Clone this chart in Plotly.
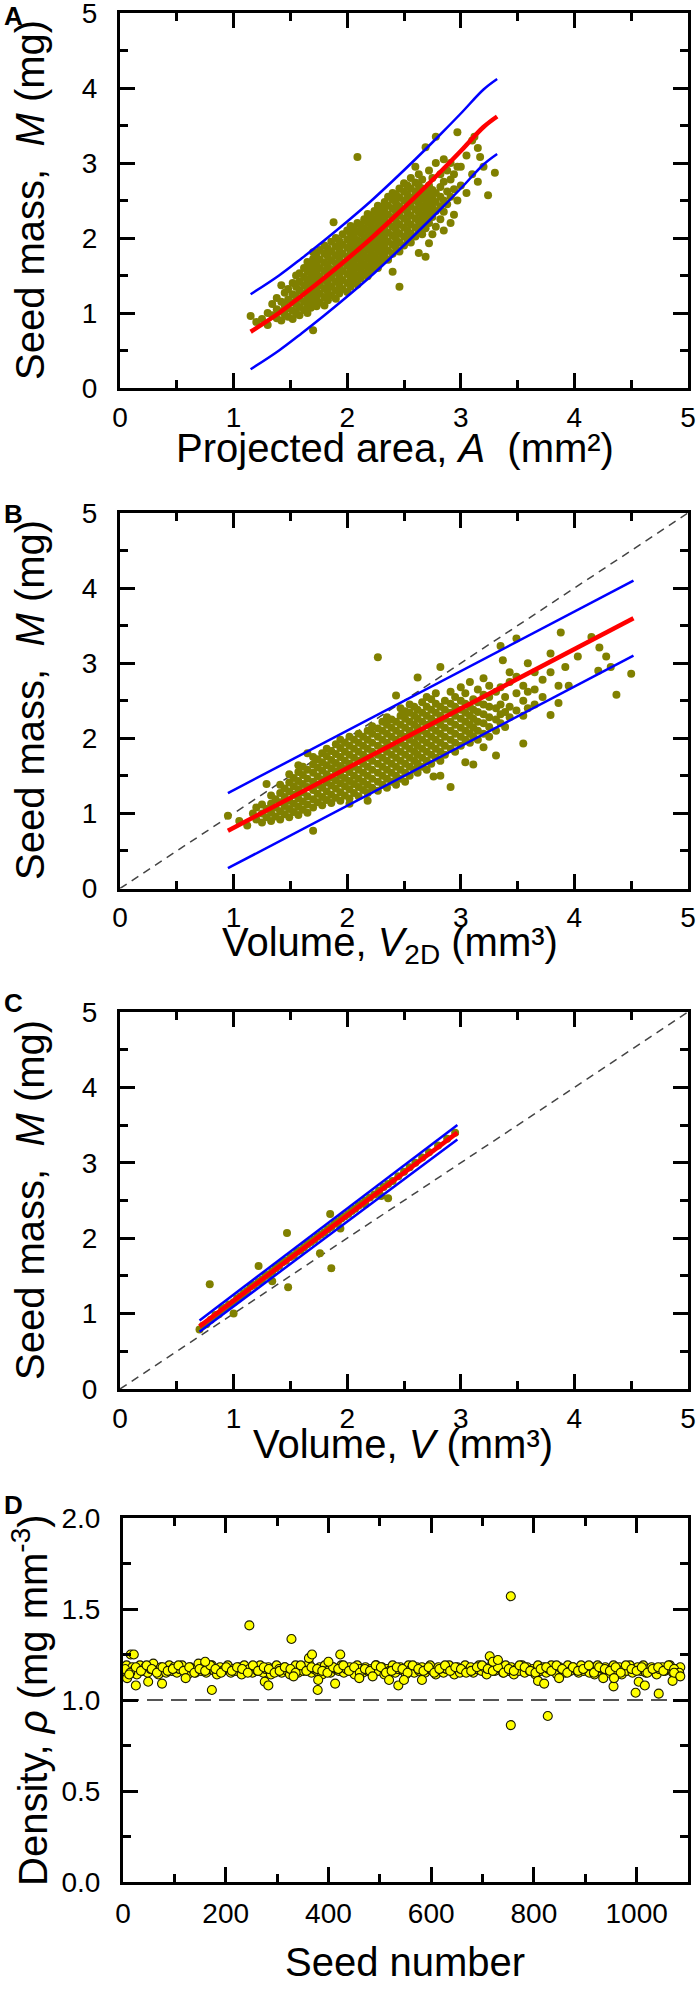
import plotly.graph_objects as go

# ---------------- DATA ----------------
# Panel A: projected area A (mm^2) -> seed mass M (mg); columns of points
A_cols = {
    1.15: [0.96], 1.20: [0.88], 1.25: [0.92], 1.30: [0.84, 1.00], 1.34: [0.97, 1.12],
    1.38: [0.93, 1.05, 1.20], 1.42: [0.90, 1.02, 1.15, 1.37], 1.45: [0.98, 1.10, 1.27],
    1.48: [0.95, 1.06, 1.18, 1.32], 1.52: [0.92, 1.03, 1.14, 1.25, 1.40],
    1.55: [1.00, 1.12, 1.22, 1.35, 1.50], 1.58: [0.97, 1.08, 1.19, 1.30, 1.42, 1.53],
    1.62: [1.04, 1.15, 1.26, 1.37, 1.48, 1.60], 1.65: [1.00, 1.11, 1.22, 1.33, 1.44, 1.56, 1.68],
    1.68: [1.07, 1.18, 1.29, 1.40, 1.52, 1.63], 1.70: [0.77, 1.12, 1.24, 1.36, 1.47, 1.58, 1.72, 1.81],
    1.73: [1.09, 1.20, 1.31, 1.43, 1.55, 1.66, 1.78], 1.76: [1.14, 1.26, 1.37, 1.49, 1.60, 1.71, 1.84],
    1.80: [1.10, 1.21, 1.33, 1.44, 1.56, 1.67, 1.79, 1.90], 1.83: [1.17, 1.28, 1.40, 1.52, 1.63, 1.75, 1.86],
    1.86: [1.23, 1.35, 1.47, 1.58, 1.70, 1.82, 1.95], 1.88: [2.21],
    1.90: [1.19, 1.30, 1.42, 1.54, 1.66, 1.77, 1.89, 2.00], 1.93: [1.26, 1.37, 1.49, 1.61, 1.72, 1.84, 1.96],
    1.96: [1.32, 1.44, 1.56, 1.67, 1.79, 1.91, 2.05], 2.00: [1.28, 1.40, 1.52, 1.63, 1.75, 1.87, 1.98, 2.10],
    2.03: [1.35, 1.47, 1.59, 1.71, 1.82, 1.94, 2.06, 2.16], 2.06: [1.42, 1.54, 1.66, 1.78, 1.90, 2.01, 2.12],
    2.09: [1.38, 1.50, 1.62, 1.74, 1.86, 1.97, 2.09, 2.20, 3.08], 2.12: [1.46, 1.58, 1.70, 1.82, 1.94, 2.06, 2.17],
    2.15: [1.53, 1.65, 1.77, 1.89, 2.01, 2.13, 2.25], 2.18: [1.49, 1.61, 1.73, 1.85, 1.97, 2.09, 2.21, 2.32],
    2.21: [1.57, 1.69, 1.81, 1.93, 2.05, 2.17, 2.29], 2.24: [1.64, 1.76, 1.88, 2.00, 2.12, 2.24, 2.36],
    2.27: [1.60, 1.72, 1.84, 1.96, 2.08, 2.20, 2.32, 2.43], 2.30: [1.68, 1.80, 1.92, 2.04, 2.16, 2.28, 2.40],
    2.33: [1.75, 1.87, 1.99, 2.11, 2.23, 2.35, 2.48], 2.36: [1.71, 1.83, 1.95, 2.07, 2.19, 2.31, 2.43, 2.55],
    2.40: [1.55, 1.79, 1.91, 2.03, 2.15, 2.27, 2.39, 2.51, 2.60], 2.43: [1.86, 1.98, 2.10, 2.22, 2.34, 2.46, 2.58],
    2.46: [1.35, 1.82, 1.94, 2.06, 2.18, 2.30, 2.42, 2.54, 2.66], 2.50: [1.90, 2.02, 2.14, 2.26, 2.38, 2.50, 2.62, 2.73],
    2.53: [1.98, 2.10, 2.22, 2.34, 2.46, 2.58, 2.70], 2.56: [1.94, 2.06, 2.18, 2.30, 2.42, 2.54, 2.66, 2.80],
    2.60: [2.02, 2.14, 2.26, 2.38, 2.50, 2.62, 2.74, 2.95], 2.63: [1.80, 2.10, 2.22, 2.34, 2.46, 2.58, 2.70, 2.85],
    2.66: [2.05, 2.18, 2.30, 2.42, 2.54, 2.66, 2.78], 2.69: [1.75, 2.13, 2.26, 2.38, 2.50, 2.62, 3.21],
    2.72: [1.93, 2.20, 2.33, 2.45, 2.57, 2.70, 2.90], 2.75: [2.05, 2.28, 2.40, 2.52, 2.64, 2.80],
    2.78: [2.15, 2.36, 2.48, 2.60, 3.00, 3.35], 2.82: [2.25, 2.42, 2.55, 2.68, 2.85],
    2.85: [2.10, 2.35, 2.50, 2.75, 3.05], 2.88: [2.45, 2.62, 2.90], 2.91: [2.20, 2.55, 2.78, 3.00],
    2.94: [2.31, 2.65, 2.85], 2.97: [2.50, 2.95, 3.41], 3.00: [2.70, 2.95], 3.05: [2.60, 3.10],
    3.10: [2.85, 3.30], 3.12: [3.35], 3.15: [2.75, 3.20], 3.17: [3.08], 3.20: [2.95], 3.24: [2.57], 3.30: [2.87],
}
A_fit_x = [1.15, 1.4, 1.6, 1.8, 2.0, 2.2, 2.4, 2.6, 2.8, 3.0, 3.2, 3.32]
A_fit = [0.75, 1.00, 1.23, 1.47, 1.72, 1.98, 2.26, 2.55, 2.85, 3.16, 3.48, 3.62]
A_upper = [1.25, 1.50, 1.73, 1.97, 2.22, 2.48, 2.76, 3.05, 3.35, 3.66, 3.98, 4.12]
A_lower = [0.25, 0.50, 0.73, 0.97, 1.22, 1.48, 1.76, 2.05, 2.35, 2.66, 2.98, 3.12]

# Panel B: volume V2D (mm^3) -> seed mass M (mg)
B_cols = {
    0.95: [0.97], 1.05: [0.90], 1.12: [0.84], 1.17: [1.00], 1.20: [0.92, 1.08],
    1.25: [0.88, 1.00, 1.12], 1.29: [0.95, 1.06, 1.39], 1.33: [0.90, 1.01, 1.13, 1.24],
    1.37: [0.96, 1.08, 1.19], 1.41: [0.92, 1.03, 1.15, 1.27, 1.38], 1.45: [0.99, 1.10, 1.22, 1.33],
    1.49: [0.95, 1.06, 1.17, 1.29, 1.41, 1.52], 1.53: [1.02, 1.13, 1.25, 1.36, 1.47],
    1.57: [0.98, 1.09, 1.20, 1.32, 1.43, 1.55, 1.64], 1.61: [1.05, 1.16, 1.28, 1.39, 1.51, 1.62],
    1.65: [1.01, 1.12, 1.23, 1.35, 1.46, 1.58, 1.80], 1.70: [0.77, 1.08, 1.19, 1.31, 1.42, 1.54, 1.65, 1.75],
    1.74: [1.15, 1.26, 1.38, 1.49, 1.61, 1.72], 1.78: [1.11, 1.22, 1.34, 1.45, 1.57, 1.68, 1.80],
    1.82: [1.18, 1.29, 1.41, 1.52, 1.64, 1.76, 1.86], 1.86: [1.14, 1.25, 1.37, 1.48, 1.60, 1.71, 1.83],
    1.90: [1.21, 1.33, 1.44, 1.56, 1.67, 1.79, 1.92], 1.94: [1.17, 1.28, 1.40, 1.51, 1.63, 1.75, 1.87, 1.98],
    1.98: [1.24, 1.36, 1.47, 1.59, 1.70, 1.82, 1.94], 2.02: [1.13, 1.20, 1.32, 1.43, 1.55, 1.66, 1.78, 1.90, 2.02],
    2.06: [1.27, 1.39, 1.50, 1.62, 1.74, 1.86, 1.98], 2.10: [1.23, 1.35, 1.46, 1.58, 1.70, 1.82, 1.94, 2.06],
    2.14: [1.31, 1.42, 1.54, 1.66, 1.78, 1.90, 2.02], 2.18: [1.17, 1.27, 1.38, 1.50, 1.62, 1.74, 1.86, 1.98, 2.10],
    2.22: [1.34, 1.46, 1.58, 1.70, 1.82, 1.94, 2.06, 2.16], 2.27: [1.30, 1.42, 1.54, 1.66, 1.78, 1.90, 2.02, 2.13, 3.08],
    2.31: [1.38, 1.50, 1.62, 1.74, 1.86, 1.98, 2.10, 2.22], 2.35: [1.34, 1.46, 1.58, 1.70, 1.82, 1.94, 2.06, 2.18, 2.28],
    2.39: [1.42, 1.54, 1.66, 1.78, 1.90, 2.02, 2.14, 2.25], 2.43: [1.38, 1.50, 1.62, 1.74, 1.86, 1.98, 2.10, 2.22, 2.57],
    2.47: [1.46, 1.58, 1.70, 1.82, 1.94, 2.06, 2.18, 2.30, 2.40], 2.51: [1.42, 1.54, 1.66, 1.78, 1.90, 2.02, 2.14, 2.26, 2.36],
    2.55: [1.50, 1.62, 1.74, 1.86, 1.98, 2.10, 2.22, 2.34, 2.45], 2.59: [1.58, 1.70, 1.82, 1.94, 2.06, 2.18, 2.30, 2.42],
    2.62: [1.54, 1.66, 1.78, 1.90, 2.02, 2.14, 2.26, 2.38, 2.81], 2.66: [1.62, 1.74, 1.86, 1.98, 2.10, 2.22, 2.34, 2.48],
    2.70: [1.58, 1.70, 1.82, 1.94, 2.06, 2.18, 2.30, 2.42, 2.55], 2.74: [1.66, 1.78, 1.90, 2.02, 2.14, 2.26, 2.38, 2.52],
    2.76: [1.49], 2.78: [1.74, 1.86, 1.98, 2.10, 2.22, 2.34, 2.46, 2.60],
    2.82: [1.50, 1.70, 1.82, 1.94, 2.06, 2.18, 2.30, 2.42, 2.95], 2.86: [1.78, 1.90, 2.02, 2.14, 2.26, 2.38, 2.50],
    2.91: [1.35, 1.86, 1.98, 2.10, 2.22, 2.34, 2.46, 2.62], 2.95: [1.82, 1.94, 2.06, 2.18, 2.30, 2.42, 2.55],
    3.00: [1.90, 2.02, 2.14, 2.26, 2.38, 2.50, 2.68], 3.04: [1.68, 1.98, 2.10, 2.22, 2.34, 2.46, 2.60],
    3.08: [1.94, 2.06, 2.18, 2.30, 2.42, 2.75], 3.11: [1.65, 2.02, 2.14, 2.26, 2.38, 2.52],
    3.15: [1.98, 2.10, 2.22, 2.35, 2.48, 2.65], 3.20: [1.88, 2.06, 2.20, 2.32, 2.45, 2.58, 2.80],
    3.25: [2.02, 2.15, 2.28, 2.42, 2.55, 2.70], 3.31: [1.77, 2.10, 2.25, 2.40, 2.62],
    3.35: [2.20, 2.32, 2.45, 2.68, 3.23], 3.37: [3.04], 3.39: [2.15, 2.35, 2.55],
    3.43: [2.28, 2.42, 2.75, 2.88], 3.49: [2.37, 2.60, 2.82, 3.33], 3.55: [1.93, 2.30, 2.50, 2.70],
    3.59: [2.40, 2.62, 3.00], 3.65: [2.45, 2.65, 2.88], 3.72: [2.55, 2.78], 3.79: [2.31, 2.88, 3.13],
    3.86: [2.47, 2.70], 3.88: [3.41], 3.92: [2.95], 3.95: [2.70], 4.03: [3.09], 4.15: [3.35],
    4.21: [2.90], 4.22: [3.21], 4.28: [3.09], 4.32: [2.95], 4.37: [2.58], 4.50: [2.86],
}
B_fit_x = [0.95, 4.52]
B_fit = [0.77, 3.60]
B_upper = [1.27, 4.10]
B_lower = [0.27, 3.10]

# Panel C: volume V (mm^3) -> seed mass M (mg)
C_vol = [0.70, 0.73, 0.76, 0.79, 0.80, 0.84, 0.87, 0.90, 0.93, 0.96, 1.00, 1.00, 1.03, 1.06, 1.09,
         1.12, 1.15, 1.18, 1.22, 1.22, 1.25, 1.28, 1.31, 1.34, 1.34, 1.37, 1.40, 1.43, 1.46, 1.47,
         1.48, 1.50, 1.53, 1.56, 1.59, 1.62, 1.65, 1.68, 1.71, 1.74, 1.76, 1.77, 1.80, 1.83, 1.85,
         1.86, 1.86, 1.89, 1.92, 1.94, 1.95, 1.98, 2.01, 2.04, 2.07, 2.10, 2.13, 2.16, 2.16, 2.20,
         2.24, 2.28, 2.30, 2.32, 2.36, 2.36, 2.40, 2.45, 2.50, 2.55, 2.60, 2.66, 2.72, 2.80, 2.88, 2.95]
C_mass = [0.79, 0.84, 0.86, 1.39, 0.92, 0.98, 0.99, 1.06, 1.08, 1.12, 1.00, 1.15, 1.20, 1.23, 1.27,
          1.30, 1.36, 1.38, 1.63, 1.42, 1.45, 1.50, 1.52, 1.43, 1.56, 1.60, 1.63, 1.68, 1.70, 2.07,
          1.35, 1.75, 1.77, 1.82, 1.84, 1.88, 1.92, 1.95, 1.98, 2.02, 1.80, 2.05, 2.08, 2.12, 2.32,
          1.60, 2.15, 2.19, 2.22, 2.13, 2.26, 2.29, 2.32, 2.36, 2.39, 2.43, 2.46, 2.45, 2.50, 2.54,
          2.58, 2.63, 2.56, 2.68, 2.53, 2.72, 2.76, 2.82, 2.88, 2.94, 3.00, 3.07, 3.14, 3.23, 3.32, 3.40]
C_fit_x = [0.70, 2.97]
C_fit = [0.83, 3.40]
C_upper = [0.91, 3.50]
C_lower = [0.76, 3.31]

# 1:1 reference line (B, C)
ref_x = [0, 5]
ref_y = [0, 5]

# Panel D: seed number -> density rho (mg mm^-3)
D_seed = [2, 7, 12, 18, 23, 27, 33, 38, 43, 48,
          54, 59, 63, 69, 74, 79, 84, 90, 95, 99,
          105, 110, 115, 121, 126, 131, 136, 141, 147, 152,
          157, 162, 168, 173, 178, 183, 189, 194, 199, 204,
          210, 215, 220, 225, 231, 236, 241, 246, 252, 257,
          262, 267, 273, 278, 283, 288, 294, 299, 304, 309,
          315, 320, 325, 330, 336, 341, 346, 351, 357, 362,
          367, 372, 378, 383, 388, 393, 399, 404, 409, 414,
          420, 425, 430, 435, 441, 446, 451, 456, 462, 467,
          472, 477, 483, 488, 493, 498, 504, 509, 514, 519,
          525, 530, 535, 540, 546, 551, 556, 561, 567, 572,
          577, 582, 588, 593, 598, 603, 609, 614, 619, 624,
          630, 635, 640, 645, 651, 656, 661, 666, 672, 677,
          682, 687, 693, 698, 703, 708, 714, 719, 724, 729,
          735, 740, 745, 750, 756, 761, 766, 771, 777, 782,
          787, 792, 798, 803, 808, 813, 819, 824, 829, 834,
          840, 845, 850, 855, 861, 866, 871, 876, 882, 887,
          892, 897, 903, 908, 913, 918, 924, 929, 934, 939,
          945, 950, 955, 960, 966, 971, 976, 981, 987, 992,
          997, 1002, 1008, 1013, 1018, 1023, 1029, 1034, 1039, 1044,
          1050, 1055, 1060, 1065, 1071, 1076, 1081, 1085]
D_rho = [1.16, 1.19, 1.15, 1.18, 1.17, 1.14, 1.19, 1.16, 1.18, 1.15,
         1.17, 1.20, 1.16, 1.14, 1.18, 1.17, 1.15, 1.19, 1.16, 1.18,
         1.15, 1.17, 1.19, 1.16, 1.14, 1.18, 1.17, 1.15, 1.20, 1.16,
         1.18, 1.15, 1.17, 1.19, 1.16, 1.14, 1.18, 1.16, 1.17, 1.19,
         1.15, 1.17, 1.16, 1.18, 1.14, 1.19, 1.16, 1.17, 1.15, 1.18,
         1.16, 1.19, 1.15, 1.17, 1.18, 1.14, 1.16, 1.19, 1.17, 1.15,
         1.18, 1.16, 1.14, 1.17, 1.19, 1.15, 1.18, 1.16, 1.17, 1.20,
         1.15, 1.17, 1.16, 1.18, 1.14, 1.19, 1.16, 1.15, 1.18, 1.17,
         1.16, 1.19, 1.15, 1.17, 1.18, 1.16, 1.14, 1.19, 1.17, 1.15,
         1.18, 1.16, 1.17, 1.15, 1.19, 1.16, 1.18, 1.14, 1.17, 1.16,
         1.19, 1.15, 1.17, 1.18, 1.16, 1.14, 1.19, 1.17, 1.15, 1.18,
         1.16, 1.18, 1.15, 1.17, 1.19, 1.16, 1.14, 1.18, 1.17, 1.15,
         1.17, 1.19, 1.16, 1.14, 1.18, 1.15, 1.17, 1.19, 1.16, 1.18,
         1.15, 1.17, 1.19, 1.16, 1.18, 1.14, 1.17, 1.20, 1.16, 1.18,
         1.17, 1.15, 1.19, 1.16, 1.18, 1.14, 1.17, 1.16, 1.19, 1.15,
         1.18, 1.16, 1.17, 1.14, 1.19, 1.16, 1.18, 1.15, 1.17, 1.19,
         1.16, 1.14, 1.18, 1.17, 1.15, 1.19, 1.16, 1.18, 1.17, 1.15,
         1.19, 1.16, 1.17, 1.15, 1.18, 1.14, 1.19, 1.16, 1.17, 1.18,
         1.15, 1.17, 1.19, 1.16, 1.18, 1.14, 1.17, 1.16, 1.19, 1.15,
         1.17, 1.18, 1.16, 1.19, 1.15, 1.17, 1.18, 1.16, 1.14, 1.17,
         1.18, 1.16, 1.17, 1.19, 1.15, 1.17, 1.16, 1.18]
D_seed2 = [4, 14, 25, 35, 46, 56, 66, 77, 87, 97,
           108, 118, 129, 139, 149, 160, 170, 180, 191, 201,
           212, 222, 232, 243, 253, 263, 274, 284, 295, 305,
           315, 326, 336, 346, 357, 367, 378, 388, 398, 409,
           419, 429, 440, 450, 461, 471, 481, 492, 502, 512,
           523, 533, 544, 554, 564, 575, 585, 595, 606, 616,
           627, 637, 647, 658, 668, 678, 689, 699, 710, 720,
           730, 741, 751, 761, 772, 782, 793, 803, 813, 824,
           834, 844, 855, 865, 876, 886, 896, 907, 917, 927,
           938, 948, 959, 969, 979, 990, 1000, 1010, 1021, 1031,
           1042, 1052, 1062, 1073, 1083]
D_rho2 = [1.17, 1.15, 1.18, 1.16, 1.19, 1.17, 1.15, 1.18, 1.16, 1.17,
          1.19, 1.16, 1.18, 1.15, 1.17, 1.16, 1.19, 1.17, 1.15, 1.18,
          1.16, 1.18, 1.17, 1.15, 1.19, 1.16, 1.18, 1.17, 1.15, 1.16,
          1.18, 1.17, 1.15, 1.19, 1.16, 1.18, 1.17, 1.16, 1.15, 1.18,
          1.17, 1.19, 1.16, 1.18, 1.15, 1.17, 1.16, 1.19, 1.18, 1.15,
          1.16, 1.18, 1.17, 1.15, 1.19, 1.17, 1.16, 1.18, 1.15, 1.17,
          1.19, 1.16, 1.18, 1.17, 1.15, 1.16, 1.18, 1.19, 1.17, 1.16,
          1.18, 1.15, 1.17, 1.16, 1.19, 1.18, 1.16, 1.15, 1.17, 1.18,
          1.16, 1.19, 1.17, 1.15, 1.18, 1.16, 1.17, 1.19, 1.15, 1.18,
          1.17, 1.16, 1.18, 1.15, 1.19, 1.17, 1.16, 1.18, 1.15, 1.17,
          1.18, 1.16, 1.19, 1.17, 1.15]
D_out_seed = [8, 12, 15, 21, 25, 49, 76, 122, 160, 173, 246, 276, 283, 328, 332, 362, 368, 379, 380, 400,
              413, 423, 460, 486, 518, 536, 547, 582, 714, 720, 730, 755, 755, 808, 820, 827, 849, 935,
              955, 956, 998, 1004, 1016, 1043, 1070, 1073, 1085]
D_out_rho = [1.12, 1.14, 1.25, 1.25, 1.08, 1.10, 1.09, 1.12, 1.21, 1.055, 1.41, 1.10, 1.08, 1.335, 1.13,
             1.23, 1.25, 1.055, 1.11, 1.21, 1.09, 1.25, 1.12, 1.13, 1.11, 1.08, 1.11, 1.11, 1.24, 1.21,
             1.22, 1.57, 0.862, 1.105, 1.09, 0.912, 1.12, 1.12, 1.075, 1.12, 1.04, 1.10, 1.08, 1.035,
             1.105, 1.15, 1.13]
D_ref_rho = 1.0

# ---------------- FIGURE ----------------
FONT = "Liberation Sans, Arial, Helvetica, sans-serif"
W, H = 696, 1992
OLIVE = "#808000"
NB = "\u00a0"


def py(px):
    return 1 - px / H


def flat(cols):
    xs, ys = [], []
    for x, yl in cols.items():
        for y in yl:
            xs.append(x)
            ys.append(y)
    return xs, ys


A_x, A_y = flat(A_cols)
B_x, B_y = flat(B_cols)

fig = go.Figure()


def add_panel(xa, ya, px, pyv, fx, fit, up, lo, ref):
    if ref:
        fig.add_trace(go.Scatter(x=ref_x, y=ref_y, mode="lines", xaxis=xa, yaxis=ya,
                                 line=dict(color="#444444", width=1.5, dash="8px,6px"), hoverinfo="skip"))
    fig.add_trace(go.Scatter(x=px, y=pyv, mode="markers", xaxis=xa, yaxis=ya,
                             marker=dict(color=OLIVE, size=8, line=dict(width=0))))
    for yy in (up, lo):
        fig.add_trace(go.Scatter(x=fx, y=yy, mode="lines", xaxis=xa, yaxis=ya,
                                 line=dict(color="#0000ff", width=2.5, shape="spline")))
    fig.add_trace(go.Scatter(x=fx, y=fit, mode="lines", xaxis=xa, yaxis=ya,
                             line=dict(color="#ff0000", width=4.5, shape="spline")))


add_panel("x", "y", A_x, A_y, A_fit_x, A_fit, A_upper, A_lower, False)
add_panel("x2", "y2", B_x, B_y, B_fit_x, B_fit, B_upper, B_lower, True)
add_panel("x3", "y3", C_vol, C_mass, C_fit_x, C_fit, C_upper, C_lower, True)

fig.add_shape(type="line", xref="x4 domain", yref="y4", x0=0, x1=1, y0=D_ref_rho, y1=D_ref_rho,
              line=dict(color="#555555", width=2, dash="16px,8px"), layer="below")
fig.add_trace(go.Scatter(x=D_seed + D_seed2 + D_out_seed, y=D_rho + D_rho2 + D_out_rho,
                         mode="markers", xaxis="x4", yaxis="y4",
                         marker=dict(color="#ffff00", size=9, line=dict(color="#1a1a00", width=1.1))))


def ax(domain, anchor, rng, dtick, mdtick, fmt=None, standoff=0):
    d = dict(domain=domain, anchor=anchor, range=rng, tick0=0, dtick=dtick, automargin=False,
             showline=True, linecolor="black", linewidth=3, mirror="ticks",
             ticks="inside", ticklen=15, tickwidth=3, tickcolor="black",
             minor=dict(tick0=0, dtick=mdtick, ticks="inside", ticklen=8, tickwidth=3,
                        tickcolor="black", showgrid=False),
             showgrid=False, zeroline=False, ticklabeloverflow="allow",
             tickfont=dict(family=FONT, size=28, color="black"),
             ticklabelstandoff=standoff)
    if fmt:
        d["tickformat"] = fmt
    return d


XD = [120 / W, 688 / W]
XD4 = [123 / W, 688 / W]
rows = {1: (388, 13), 2: (888.5, 513), 3: (1389, 1012), 4: (1882, 1518)}

layout_axes = {}
for i in (1, 2, 3):
    sfx = "" if i == 1 else str(i)
    b, t = rows[i]
    layout_axes["xaxis" + sfx] = ax(XD, "y" + sfx, [0, 5], 1, 0.5, standoff=2)
    layout_axes["yaxis" + sfx] = ax([py(b), py(t)], "x" + sfx, [0, 5], 1, 0.5, standoff=14)
b, t = rows[4]
layout_axes["xaxis4"] = ax(XD4, "y4", [0, 1100], 200, 100, standoff=4)
layout_axes["yaxis4"] = ax([py(b), py(t)], "x4", [0, 2], 0.5, 0.25, fmt=".1f", standoff=14)

ann = []
TF = dict(family=FONT, size=40, color="black")
xtitles = [("Projected area, <i>A</i>  (mm²)", 448, 395),
           ("Volume, <i>V</i><sub>2D</sub> (mm³)", 945, 390),
           ("Volume, <i>V</i> (mm³)", 1444, 403),
           ("Seed number", 1962, 405)]
for txt, yc, xc in xtitles:
    ann.append(dict(text=txt, x=xc / W, y=py(yc), xref="paper", yref="paper",
                    xanchor="center", yanchor="middle", showarrow=False, font=TF))
ymass = "Seed mass," + NB + " <i>M</i> (mg)"
ytitles = [(ymass, 200), (ymass, 700), (ymass, 1200),
           ("Density, <i>ρ</i> (mg mm<sup>-3</sup>)", 1700)]
for txt, yc in ytitles:
    ann.append(dict(text=txt, x=30 / W, y=py(yc), xref="paper", yref="paper", textangle=-90,
                    xanchor="center", yanchor="middle", showarrow=False, font=TF))
for lab, yc in (("A", 16), ("B", 514), ("C", 1003), ("D", 1505)):
    ann.append(dict(text="<b>" + lab + "</b>", x=2 / W, y=py(yc), xref="paper", yref="paper",
                    xanchor="left", yanchor="middle", showarrow=False,
                    font=dict(family=FONT, size=26, color="black")))

fig.update_layout(width=W, height=H, margin=dict(l=0, r=0, t=0, b=0, autoexpand=False), autosize=False,
                  paper_bgcolor="white", plot_bgcolor="white", showlegend=False,
                  annotations=ann, **layout_axes)

fig.write_html("out.html", config={"responsive": False, "displayModeBar": False},
               post_script="document.body.style.margin='0';document.body.style.overflow='hidden';")
